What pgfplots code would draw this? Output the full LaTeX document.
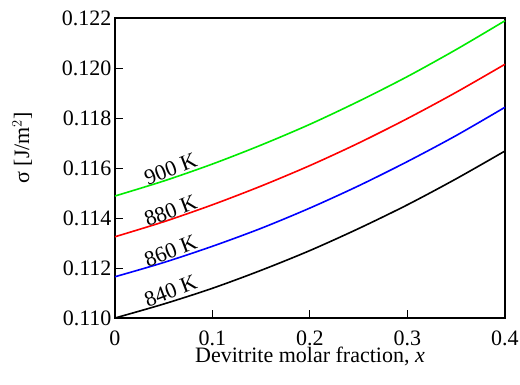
\documentclass[border=0pt]{standalone}
\usepackage{pgfplots}
\pgfplotsset{compat=1.18}
\usepackage{fontspec}
\setmainfont{Liberation Serif}

% surface tension of the melt vs. devitrite molar fraction
\pgfplotstableread{
x      T840     T860     T880     T900
0.00   0.11000  0.11165  0.11325  0.11488
0.05   0.11056  0.11222  0.11385  0.11548
0.10   0.11119  0.11287  0.11453  0.11616
0.15   0.11191  0.11359  0.11528  0.11692
0.20   0.11270  0.11440  0.11610  0.11775
0.25   0.11358  0.11529  0.11700  0.11867
0.30   0.11453  0.11626  0.11798  0.11966
0.35   0.11557  0.11730  0.11903  0.12074
0.40   0.11668  0.11843  0.12015  0.12189
}\sigmadata

\definecolor{cgreen}{RGB}{0,235,0}
\definecolor{cred}{RGB}{255,0,0}
\definecolor{cblue}{RGB}{0,0,255}

\newcommand{\bigfont}{\fontsize{22}{26}\selectfont}

\begin{document}
\begin{tikzpicture}
\begin{axis}[
  at={(0pt,0pt)}, anchor=origin,
  scale only axis,
  width=390pt, height=300pt,
  xmin=0, xmax=0.4, ymin=0.110, ymax=0.122,
  xtick={0,0.1,0.2,0.3,0.4},
  xticklabels={0,0.1,0.2,0.3,0.4},
  ytick={0.110,0.112,0.114,0.116,0.118,0.120,0.122},
  yticklabels={0.110,0.112,0.114,0.116,0.118,0.120,0.122},
  xtick pos=bottom, ytick pos=left,
  tick align=inside,
  major tick length=8pt,
  every tick/.style={black, line width=1pt},
  axis line style={line width=1.2pt},
  every tick label/.append style={font=\bigfont},
  every axis label/.append style={font=\bigfont},
  xticklabel style={yshift=-9pt},
  xlabel={Devitrite molar fraction, \textit{x}},
  ylabel={σ [J/m$^2$]},
  xlabel style={yshift=5pt},
  ylabel style={at={(axis description cs:-0.238,0.567)}, anchor=center},
  clip=false,
]
\addplot[black, line width=1.6pt, smooth] table[x=x, y=T840] {\sigmadata};
\addplot[cblue, line width=1.6pt, smooth] table[x=x, y=T860] {\sigmadata};
\addplot[cred, line width=1.6pt, smooth] table[x=x, y=T880] {\sigmadata};
\addplot[cgreen, line width=1.6pt, smooth] table[x=x, y=T900] {\sigmadata};

\node[rotate=21, font=\bigfont, inner sep=0pt] at (axis cs:0.057,0.11107) {840 K};
\node[rotate=21, font=\bigfont, inner sep=0pt] at (axis cs:0.057,0.11267) {860 K};
\node[rotate=21, font=\bigfont, inner sep=0pt] at (axis cs:0.057,0.11430) {880 K};
\node[rotate=21, font=\bigfont, inner sep=0pt] at (axis cs:0.057,0.11597) {900 K};
\end{axis}
\pgfresetboundingbox
\path (-115pt,-66pt) rectangle (405pt,318pt);
\end{tikzpicture}
\end{document}
